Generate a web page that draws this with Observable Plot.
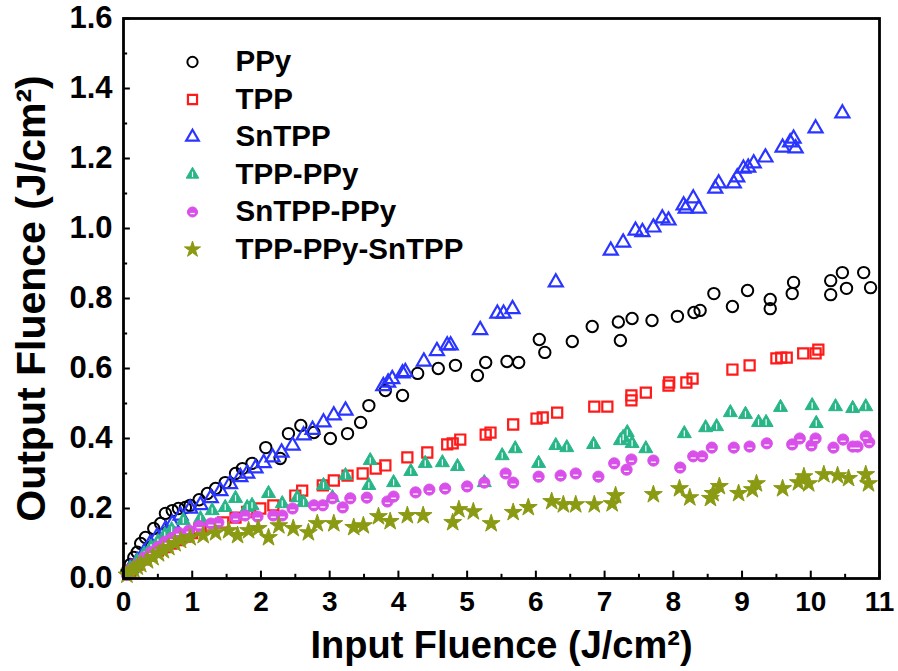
<!DOCTYPE html>
<html>
<head>
<meta charset="utf-8">
<script src="https://cdn.jsdelivr.net/npm/d3@7"></script>
<script src="https://cdn.jsdelivr.net/npm/@observablehq/plot@0.6"></script>
<style>
  html, body { margin: 0; padding: 0; background: #fff; }
  #chart { width: 898px; height: 671px; }
  svg { font-family: "Liberation Sans", Arial, sans-serif; }
</style>
</head>
<body>
<div id="chart"></div>
<script>
// ---- data ----
const seriesNames = ["PPy", "TPP", "SnTPP", "TPP-PPy", "SnTPP-PPy", "TPP-PPy-SnTPP"];

const ppyX = [0.05,0.1,0.15,0.2,0.25,0.32,0.44,0.54,0.61,0.71,0.8,0.9,0.97,1.1,1.22,1.34,1.48,1.63,1.73,1.87,2.07,2.28,2.4,2.58,2.77,3.01,3.26,3.45,3.57,3.81,4.06,4.28,4.58,4.83,5.15,5.27,5.58,5.75,6.05,6.13,6.53,6.82,7.2,7.23,7.4,7.69,8.06,8.3,8.39,8.59,8.86,9.08,9.41,9.41,9.73,9.75,10.29,10.29,10.46,10.52,10.77,10.87];
const ppyY = [0.02,0.04,0.06,0.075,0.10,0.117,0.143,0.157,0.186,0.194,0.20,0.203,0.209,0.225,0.243,0.257,0.274,0.30,0.314,0.329,0.374,0.343,0.414,0.437,0.417,0.40,0.414,0.446,0.494,0.537,0.523,0.586,0.60,0.609,0.58,0.617,0.62,0.617,0.683,0.646,0.677,0.72,0.733,0.68,0.743,0.737,0.749,0.76,0.766,0.814,0.777,0.823,0.797,0.771,0.814,0.846,0.851,0.811,0.874,0.829,0.874,0.831];

const tppX = [0.1,0.2,0.3,0.4,0.5,0.6,0.7,0.8,0.9,1.0,1.1,1.27,1.45,1.63,1.8,1.99,2.18,2.5,2.6,2.9,3.06,3.26,3.48,3.67,3.81,4.13,4.42,4.71,4.79,4.9,5.27,5.34,5.67,6.01,6.1,6.31,6.85,7.04,7.39,7.39,7.6,7.93,7.94,8.19,8.28,8.86,9.11,9.5,9.57,9.65,9.89,10.07,10.11];
const tppY = [0.02,0.04,0.055,0.065,0.08,0.09,0.10,0.11,0.12,0.13,0.14,0.146,0.16,0.174,0.19,0.20,0.209,0.237,0.251,0.266,0.28,0.294,0.30,0.314,0.323,0.346,0.36,0.383,0.386,0.397,0.411,0.417,0.44,0.457,0.46,0.474,0.491,0.491,0.509,0.523,0.531,0.551,0.56,0.56,0.571,0.597,0.609,0.629,0.631,0.631,0.643,0.643,0.654];

const sntppX = [0.1,0.2,0.3,0.39,0.49,0.61,0.71,0.83,0.97,1.12,1.27,1.41,1.55,1.7,1.8,1.92,2.04,2.17,2.3,2.46,2.62,2.75,2.91,3.06,3.23,3.78,3.85,3.91,4.06,4.1,4.37,4.56,4.71,4.76,5.19,5.44,5.53,5.66,6.29,7.09,7.27,7.45,7.55,7.71,7.84,7.93,8.15,8.18,8.29,8.37,8.61,8.66,8.88,8.93,9.02,9.09,9.17,9.34,9.59,9.7,9.75,9.78,10.07,10.46];
const sntppY = [0.03,0.05,0.075,0.10,0.12,0.14,0.157,0.18,0.20,0.21,0.23,0.25,0.27,0.29,0.30,0.315,0.33,0.346,0.36,0.38,0.409,0.425,0.446,0.466,0.48,0.55,0.56,0.57,0.586,0.59,0.62,0.65,0.666,0.666,0.71,0.757,0.757,0.77,0.846,0.937,0.96,0.994,0.99,1.003,1.029,1.023,1.066,1.057,1.086,1.057,1.114,1.129,1.129,1.146,1.171,1.174,1.186,1.203,1.231,1.246,1.257,1.229,1.286,1.329];

const tppPpyX = [0.1,0.2,0.3,0.4,0.5,0.6,0.7,0.87,1.12,1.29,1.48,1.63,1.8,1.87,2.11,2.31,2.53,2.62,2.91,3.04,3.23,3.57,3.59,3.93,4.18,4.39,4.64,4.86,5.25,5.51,5.7,6.04,6.29,6.45,6.84,7.23,7.27,7.33,7.4,7.6,8.16,8.47,8.63,8.83,9.05,9.24,9.35,9.56,10.02,10.08,10.36,10.61,10.8];
const tppPpyY = [0.03,0.05,0.07,0.09,0.105,0.125,0.14,0.166,0.171,0.194,0.203,0.229,0.203,0.209,0.243,0.214,0.231,0.217,0.266,0.231,0.294,0.266,0.337,0.274,0.306,0.329,0.331,0.32,0.274,0.351,0.371,0.329,0.38,0.374,0.383,0.394,0.403,0.417,0.386,0.371,0.414,0.431,0.434,0.474,0.469,0.446,0.446,0.489,0.494,0.443,0.491,0.486,0.491];

const sntppPpyX = [0.05,0.1,0.2,0.3,0.4,0.5,0.6,0.7,0.8,0.95,1.1,1.27,1.38,1.63,1.77,1.95,2.18,2.31,2.46,2.77,2.9,3.04,3.19,3.3,3.54,3.84,3.93,4.25,4.45,4.68,5.0,5.25,5.56,5.67,6.04,6.36,6.58,6.91,7.14,7.32,7.39,7.71,8.1,8.29,8.42,8.56,8.88,9.11,9.36,9.73,9.84,10.01,10.07,10.33,10.47,10.61,10.68,10.8,10.85];
const sntppPpyY = [0.01,0.025,0.04,0.06,0.075,0.09,0.105,0.115,0.131,0.137,0.15,0.157,0.16,0.174,0.18,0.177,0.18,0.18,0.20,0.209,0.209,0.229,0.203,0.229,0.231,0.22,0.234,0.246,0.254,0.257,0.263,0.274,0.30,0.274,0.291,0.294,0.30,0.291,0.329,0.311,0.34,0.337,0.317,0.349,0.349,0.374,0.374,0.377,0.386,0.383,0.40,0.38,0.40,0.374,0.397,0.377,0.377,0.406,0.389];

const triX = [0.05,0.1,0.15,0.2,0.25,0.35,0.43,0.51,0.58,0.66,0.75,0.83,0.97,1.16,1.34,1.53,1.66,1.82,1.96,2.11,2.26,2.47,2.69,2.82,3.06,3.35,3.49,3.71,3.88,4.13,4.36,4.79,4.88,5.09,5.35,5.67,5.89,6.23,6.4,6.58,6.85,7.11,7.16,7.71,8.09,8.24,8.54,8.58,8.67,8.95,9.15,9.21,9.59,9.82,9.9,9.97,10.19,10.39,10.55,10.8,10.84];
const triY = [0.01,0.02,0.025,0.033,0.04,0.051,0.06,0.071,0.08,0.089,0.10,0.109,0.117,0.123,0.131,0.137,0.123,0.137,0.143,0.117,0.151,0.143,0.131,0.157,0.157,0.146,0.151,0.177,0.163,0.18,0.18,0.16,0.197,0.191,0.157,0.189,0.203,0.22,0.211,0.211,0.211,0.214,0.237,0.24,0.257,0.231,0.229,0.243,0.263,0.243,0.254,0.271,0.257,0.274,0.291,0.271,0.297,0.294,0.286,0.297,0.271];

const xMajorTicks = [0,1,2,3,4,5,6,7,8,9,10,11];
const xMinorTicks = [0.5,1.5,2.5,3.5,4.5,5.5,6.5,7.5,8.5,9.5,10.5];
const yMajorTicks = [0,0.2,0.4,0.6,0.8,1.0,1.2,1.4,1.6];
const yMinorTicks = [0.1,0.3,0.5,0.7,0.9,1.1,1.3,1.5];

const xTitle = "Input Fluence (J/cm²)";
const yTitle = "Output Fluence (J/cm²)";

// ---- build tables ----
const zip = (xs, ys) => xs.map((x, i) => ({x, y: ys[i]}));
const ppy = zip(ppyX, ppyY), tpp = zip(tppX, tppY), sntpp = zip(sntppX, sntppY);
const tppPpy = zip(tppPpyX, tppPpyY), sntppPpy = zip(sntppPpyX, sntppPpyY), tri = zip(triX, triY);

const colors = ["#000000", "#ff1a1a", "#2a35ff", "#28b688", "#d94fea", "#8a9a12"];

// custom marks used to mimic the reference's marker details
const whiteVLine = {draw(ctx, size) { const r = Math.sqrt(size / Math.PI); ctx.moveTo(0, -0.6 * r); ctx.lineTo(0, 0.55 * r); }};
const whiteHLine = {draw(ctx, size) { const r = Math.sqrt(size / Math.PI); ctx.moveTo(-0.45 * r, 0.3 * r); ctx.lineTo(0.45 * r, 0.3 * r); }};

const styles = [
  {symbol: "circle", fill: "none", stroke: colors[0], strokeWidth: 2, r: 5.7},
  {symbol: "square", fill: "none", stroke: colors[1], strokeWidth: 2.2, r: 5.7},
  {symbol: "triangle", fill: "none", stroke: colors[2], strokeWidth: 2.2, r: 5.2},
  {symbol: "triangle", fill: colors[3], stroke: colors[3], strokeWidth: 1, r: 5.2},
  {symbol: "circle", fill: colors[4], stroke: colors[4], strokeWidth: 1, r: 5.6},
  {symbol: "star", fill: colors[5], stroke: colors[5], strokeWidth: 1, r: 5.6}
];
const tables = [ppy, tpp, sntpp, tppPpy, sntppPpy, tri];

const marks = [];
tables.forEach((t, i) => {
  marks.push(Plot.dot(t, {x: "x", y: "y", ...styles[i]}));
  if (i === 3) marks.push(Plot.dot(t, {x: "x", y: "y", symbol: whiteVLine, r: 5.2, stroke: "white", strokeWidth: 1.2, fill: "none"}));
  if (i === 4) marks.push(Plot.dot(t, {x: "x", y: "y", symbol: whiteHLine, r: 5.6, stroke: "white", strokeWidth: 1.3, fill: "none"}));
});

// legend (inside frame, top-left)
seriesNames.forEach((name, i) => {
  const dy = 43.5 + i * 37.5;
  const s = {...styles[i], r: styles[i].r * 0.9};
  marks.push(Plot.dot([name], {frameAnchor: "top-left", dx: 69, dy, ...s}));
  if (i === 3) marks.push(Plot.dot([name], {frameAnchor: "top-left", dx: 69, dy, symbol: whiteVLine, r: s.r, stroke: "white", strokeWidth: 1.2, fill: "none"}));
  if (i === 4) marks.push(Plot.dot([name], {frameAnchor: "top-left", dx: 69, dy, symbol: whiteHLine, r: s.r, stroke: "white", strokeWidth: 1.3, fill: "none"}));
  marks.push(Plot.text([name], {frameAnchor: "top-left", dx: 112, dy, text: d => d, textAnchor: "start", lineAnchor: "middle", fontSize: 29.5, fontWeight: "bold", fill: "#000"}));
});

const plot = Plot.plot({
  width: 898,
  height: 671,
  marginLeft: 123,
  marginRight: 19,
  marginTop: 18,
  marginBottom: 93,
  style: {fontFamily: "'Liberation Sans', Arial, sans-serif", background: "#fff", overflow: "visible"},
  x: {domain: [0, 11]},
  y: {domain: [0, 1.6]},
  marks: [
    ...marks,
    // inward ticks
    Plot.ruleX(xMajorTicks, {x: d => d, y1: 0, y2: 0.021, stroke: "#000", strokeWidth: 2}),
    Plot.ruleX(xMinorTicks, {x: d => d, y1: 0, y2: 0.012, stroke: "#000", strokeWidth: 2}),
    Plot.ruleY(yMajorTicks, {y: d => d, x1: 0, x2: 0.1, stroke: "#000", strokeWidth: 2}),
    Plot.ruleY(yMinorTicks, {y: d => d, x1: 0, x2: 0.06, stroke: "#000", strokeWidth: 2}),
    Plot.frame({stroke: "#000", strokeWidth: 2.8}),
    Plot.axisX(xMajorTicks, {anchor: "bottom", tickSize: 0, tickPadding: 13, fontSize: 28, fontWeight: "bold", label: null, tickFormat: d3.format("d")}),
    Plot.axisY(yMajorTicks, {anchor: "left", tickSize: 0, tickPadding: 11, fontSize: 31, fontWeight: "bold", label: null, tickFormat: d3.format(".1f")}),
    Plot.text([xTitle], {frameAnchor: "bottom", dy: 67, text: d => d, fontSize: 38, fontWeight: "bold", textAnchor: "middle", lineAnchor: "middle", fill: "#000"}),
    Plot.text([yTitle], {frameAnchor: "left", dx: -92, rotate: -90, text: d => d, fontSize: 41, fontWeight: "bold", textAnchor: "middle", lineAnchor: "middle", fill: "#000"})
  ]
});
document.getElementById("chart").appendChild(plot);
</script>
</body>
</html>
